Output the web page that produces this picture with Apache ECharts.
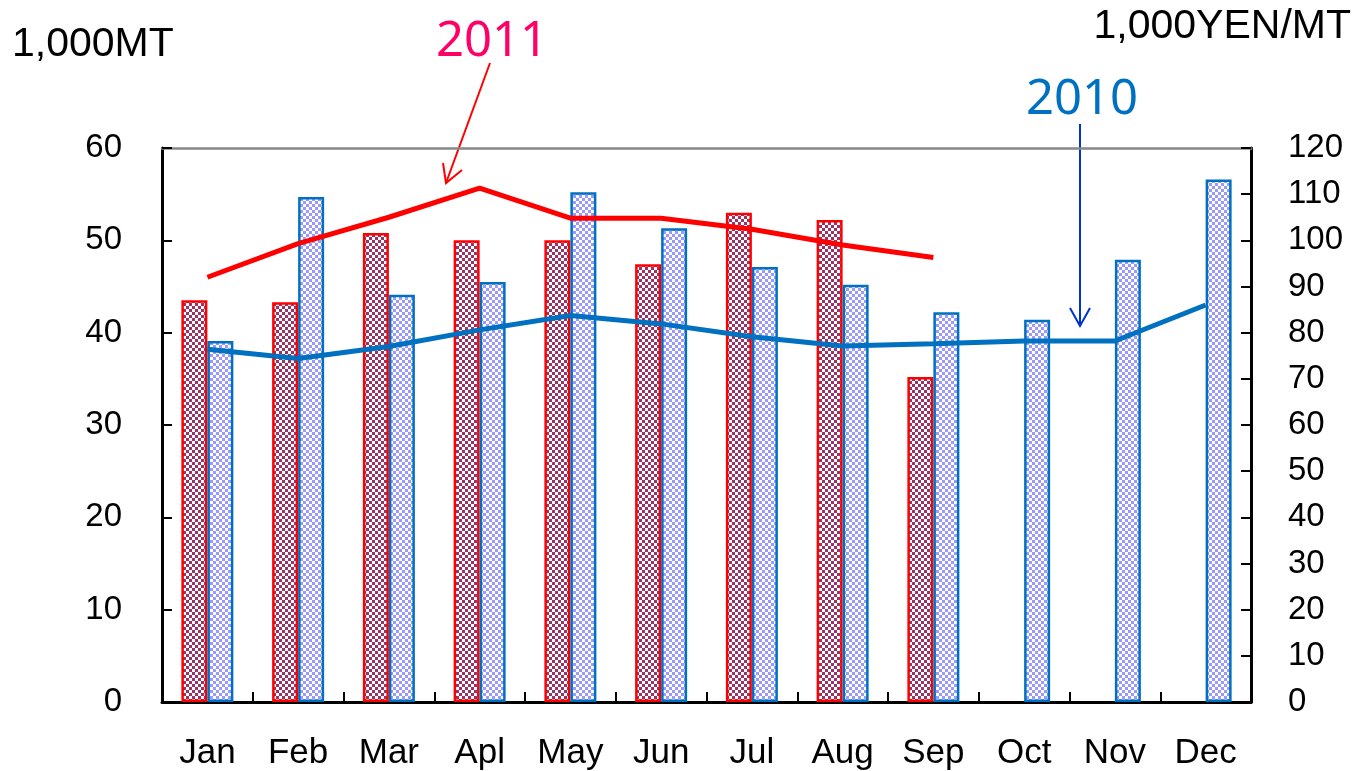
<!DOCTYPE html>
<html>
<head>
<meta charset="utf-8">
<script src="https://cdn.jsdelivr.net/npm/echarts@6/dist/echarts.min.js"></script>
<style>html,body{margin:0;padding:0;background:#fff;}#c{width:1363px;height:771px;}</style>
</head>
<body>
<div id="c"></div>
<script>
const categories = ['Jan','Feb','Mar','Apl','May','Jun','Jul','Aug','Sep','Oct','Nov','Dec'];
const bars2011 = [43.5, 43.3, 50.8, 50.0, 50.0, 47.4, 53.0, 52.2, 35.2, null, null, null];
const bars2010 = [39.1, 54.7, 44.1, 45.5, 55.2, 51.3, 47.1, 45.2, 42.2, 41.4, 47.9, 56.6];
const price2011 = [92.0, 99.3, 105.0, 111.3, 104.8, 104.8, 102.4, 99.0, 96.3, null, null, null];
const price2010 = [76.4, 74.4, 77.0, 80.6, 83.7, 81.9, 79.1, 77.1, 77.6, 78.2, 78.2, 86.0];
const leftTicks = {min: 0, max: 60, interval: 10};
const rightTicks = {min: 0, max: 120, interval: 10};

function checker(c1, c2, s) {
  const cv = document.createElement('canvas');
  cv.width = s * 2; cv.height = s * 2;
  const ctx = cv.getContext('2d');
  ctx.fillStyle = c2; ctx.fillRect(0, 0, s * 2, s * 2);
  ctx.fillStyle = c1;
  ctx.fillRect(0, 0, s, s);
  ctx.fillRect(s, s, s, s);
  return cv;
}
const redPat = {image: checker('#993366', '#ffffff', 3), repeat: 'repeat'};
const bluePat = {image: checker('#9999ff', '#ffffff', 3), repeat: 'repeat'};

const font = '"Liberation Sans", Arial, sans-serif';
const chart = echarts.init(document.getElementById('c'), null, {renderer: 'canvas'});
chart.setOption({
  animation: false,
  backgroundColor: '#ffffff',
  grid: {left: 162, right: 112, top: 148, bottom: 69},
  xAxis: [{
    type: 'category', data: categories, boundaryGap: true,
    axisLine: {lineStyle: {color: '#000', width: 3}},
    axisTick: {show: true, inside: true, length: 10, interval: 0, lineStyle: {color: '#000', width: 2}},
    axisLabel: {margin: 34, fontSize: 35, color: '#000', fontFamily: font, interval: 0}
  }, {
    type: 'category', data: categories, position: 'top',
    axisLine: {show: true, onZero: false, lineStyle: {color: '#888', width: 2.5}},
    axisTick: {show: false}, axisLabel: {show: false}
  }],
  yAxis: [{
    type: 'value', min: leftTicks.min, max: leftTicks.max, interval: leftTicks.interval,
    axisLine: {show: true, lineStyle: {color: '#000', width: 3}},
    axisTick: {show: true, inside: true, length: 10, lineStyle: {color: '#000', width: 2}},
    axisLabel: {margin: 40, fontSize: 33, color: '#000', fontFamily: font},
    splitLine: {show: false}
  }, {
    type: 'value', min: rightTicks.min, max: rightTicks.max, interval: rightTicks.interval,
    position: 'right',
    axisLine: {show: true, lineStyle: {color: '#000', width: 3}},
    axisTick: {show: true, inside: true, length: 10, lineStyle: {color: '#000', width: 2}},
    axisLabel: {margin: 37, fontSize: 33, color: '#000', fontFamily: font},
    splitLine: {show: false}
  }],
  series: [{
    name: '2011 bars', type: 'bar', data: bars2011, barWidth: 26, barGap: '0%',
    itemStyle: {color: redPat, borderColor: '#ff0000', borderWidth: 2.5}
  }, {
    name: '2010 bars', type: 'bar', data: bars2010, barWidth: 26, barGap: '0%',
    itemStyle: {color: bluePat, borderColor: '#0070c0', borderWidth: 2.5}
  }, {
    name: '2011 price', type: 'line', yAxisIndex: 1, data: price2011, symbol: 'none',
    lineStyle: {color: '#ff0000', width: 5}, z: 5
  }, {
    name: '2010 price', type: 'line', yAxisIndex: 1, data: price2010, symbol: 'none',
    lineStyle: {color: '#0070c0', width: 5}, z: 5
  }],
  graphic: [
    {type: 'text', left: 12, top: 24, style: {text: '1,000MT', fontSize: 41, fill: '#000', fontFamily: font}},
    {type: 'text', right: 12, top: 6, style: {text: '1,000YEN/MT', fontSize: 41, fill: '#000', fontFamily: font}},
    {type: 'text', left: 436, top: 18, style: {text: '2011', fontSize: 49, fill: '#ff0066', fontFamily: '"Noto Sans", "Open Sans", sans-serif'}},
    {type: 'text', left: 1026, top: 76, style: {text: '2010', fontSize: 49, fill: '#0070c0', fontFamily: '"Noto Sans", "Open Sans", sans-serif'}},
    {type: 'polyline', shape: {points: [[490, 63], [446, 183]]}, style: {stroke: '#ff0000', lineWidth: 2}},
    {type: 'polyline', shape: {points: [[443, 163], [446, 183], [462, 170]]}, style: {stroke: '#ff0000', lineWidth: 2, fill: null}},
    {type: 'polyline', shape: {points: [[1080, 124], [1080, 326]]}, style: {stroke: '#0033cc', lineWidth: 2}},
    {type: 'polyline', shape: {points: [[1070, 308], [1080, 326], [1090, 308]]}, style: {stroke: '#0033cc', lineWidth: 2, fill: null}}
  ]
});
</script>
</body>
</html>
